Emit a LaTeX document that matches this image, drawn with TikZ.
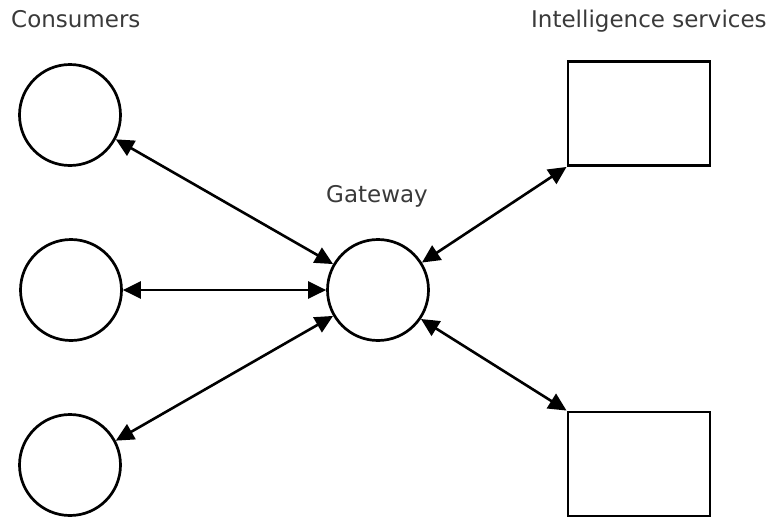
\documentclass[tikz,border=0pt]{standalone}
\usepackage{fontspec}
\setmainfont{DejaVu Sans}
\usetikzlibrary{arrows.meta}
\definecolor{txt}{HTML}{3A3A3A}
\tikzset{
  circ/.style={draw=black, line width=2.7pt, circle, minimum size=101pt, inner sep=0pt},
  box/.style={draw=black, line width=2.9pt, rectangle, minimum width=142pt, minimum height=104pt, inner sep=0pt},
  lbl/.style={text=txt, font=\fontsize{23}{27}\selectfont, inner sep=0pt},
  link/.style={line width=2.6pt, {Triangle[length=18pt,width=17pt]}-{Triangle[length=18pt,width=17pt]}}
}
\begin{document}
\begin{tikzpicture}[x=1pt,y=1pt]
\useasboundingbox (0,0) rectangle (781,-517);
\fill[white] (0,0) rectangle (781,-517);
\node[lbl, anchor=base west] (tc) at (11,-27) {Consumers};
\node[lbl, anchor=base west] (ti) at (531,-27) {Intelligence services};
\node[lbl, anchor=base] (tg) at (377,-202) {Gateway};
\node[circ] (c1) at (70,-115) {};
\node[circ] (c2) at (71,-290) {};
\node[circ] (c3) at (70,-465) {};
\node[circ] (g) at (378,-290) {};
\node[box] (r1) at (639,-113.5) {};
\node[box] (r2) at (639,-464) {};
\draw[link] (c1.-28) -- (g.150);
\draw[link] (c2.east) -- (g.west);
\draw[link] (c3.28) -- (g.-150);
\draw[link] (g.32) -- (r1.south west);
\draw[link] (g.-34) -- (r2.north west);
\end{tikzpicture}
\end{document}
